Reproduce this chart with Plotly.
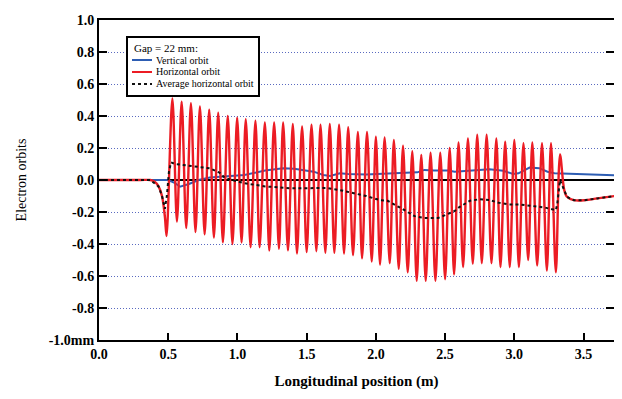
import plotly.graph_objects as go

# ---------------- data ----------------
# Horizontal orbit: entrance segment
entr_x = [0.0, 0.30, 0.37, 0.40, 0.43, 0.455, 0.476, 0.488]
entr_y = [0.0, 0.0, 0.0, -0.01, -0.04, -0.10, -0.23, -0.35]

# Horizontal orbit: oscillation extremes
peak_x = [0.53, 0.597, 0.664, 0.729, 0.796, 0.861, 0.93, 0.998, 1.06, 1.13,
          1.198, 1.265, 1.33, 1.40, 1.467, 1.535, 1.60, 1.667, 1.734, 1.80,
          1.87, 1.936, 2.00, 2.063, 2.13, 2.196, 2.263, 2.328, 2.395, 2.465,
          2.533, 2.597, 2.665, 2.732, 2.80, 2.87, 2.934, 3.00, 3.066, 3.13,
          3.20, 3.265, 3.33]
peak_y = [0.51, 0.49, 0.48, 0.46, 0.44, 0.42, 0.40, 0.39, 0.38, 0.37,
          0.36, 0.36, 0.36, 0.35, 0.335, 0.345, 0.345, 0.35, 0.345, 0.33,
          0.30, 0.30, 0.27, 0.266, 0.25, 0.214, 0.18, 0.157, 0.17, 0.17,
          0.20, 0.235, 0.26, 0.283, 0.283, 0.26, 0.24, 0.25, 0.23, 0.235,
          0.23, 0.23, 0.16]
trough_x = [0.563, 0.63, 0.697, 0.763, 0.83, 0.895, 0.964, 1.03, 1.095, 1.16,
            1.23, 1.30, 1.365, 1.43, 1.50, 1.57, 1.635, 1.70, 1.77, 1.835,
            1.90, 1.97, 2.03, 2.10, 2.165, 2.23, 2.295, 2.36, 2.43, 2.50,
            2.565, 2.63, 2.70, 2.765, 2.835, 2.90, 2.967, 3.033, 3.10, 3.165,
            3.235, 3.30]
trough_y = [-0.26, -0.30, -0.325, -0.34, -0.36, -0.39, -0.40, -0.39, -0.42, -0.42,
            -0.44, -0.43, -0.44, -0.46, -0.45, -0.445, -0.455, -0.455, -0.46, -0.47,
            -0.49, -0.51, -0.53, -0.52, -0.555, -0.577, -0.63, -0.63, -0.63, -0.62,
            -0.59, -0.545, -0.524, -0.52, -0.52, -0.545, -0.545, -0.545, -0.50, -0.535,
            -0.566, -0.577]

# Exit tail (shared by horizontal and average orbit)
tail_x = [3.36, 3.38, 3.43, 3.51, 3.60, 3.77]
tail_y = [-0.06, -0.105, -0.126, -0.126, -0.115, -0.095]

# Average horizontal orbit
avg_x = [0.0, 0.37, 0.43, 0.455, 0.476, 0.49, 0.505, 0.52, 0.55, 0.65, 0.80,
         0.87, 0.91, 1.05, 1.20, 1.39, 1.49, 1.645, 1.74, 1.83, 1.93, 2.03,
         2.085, 2.185, 2.28, 2.35, 2.45, 2.50, 2.57, 2.605, 2.68, 2.75, 2.82,
         2.89, 2.965, 3.04, 3.11, 3.15, 3.22, 3.30, 3.31, 3.33]
avg_y = [0.0, 0.0, -0.04, -0.10, -0.18, -0.10, 0.05, 0.11, 0.10, 0.088, 0.073,
         0.046, 0.012, -0.02, -0.04, -0.052, -0.052, -0.05, -0.063, -0.08, -0.10, -0.126,
         -0.13, -0.178, -0.226, -0.237, -0.237, -0.22, -0.193, -0.168, -0.13, -0.12, -0.125,
         -0.143, -0.153, -0.153, -0.162, -0.165, -0.172, -0.189, -0.15, 0.0]

# Vertical orbit
vert_x = [0.0, 0.50, 0.55, 0.585, 0.65, 0.72, 0.80, 0.895, 1.05, 1.20, 1.33,
          1.41, 1.49, 1.55, 1.62, 1.67, 1.74, 1.80, 1.93, 2.03, 2.13, 2.30,
          2.35, 2.42, 2.52, 2.57, 2.68, 2.82, 2.92, 2.99, 3.03, 3.11, 3.18,
          3.24, 3.29, 3.51, 3.77]
vert_y = [0.0, 0.0, -0.02, -0.042, -0.025, 0.0, 0.015, 0.022, 0.031, 0.059, 0.073,
          0.07, 0.058, 0.052, 0.031, 0.025, 0.042, 0.038, 0.035, 0.04, 0.042, 0.048,
          0.063, 0.06, 0.06, 0.052, 0.058, 0.067, 0.058, 0.038, 0.042, 0.078, 0.074,
          0.052, 0.042, 0.035, 0.028]

y_ticks = [1.0, 0.8, 0.6, 0.4, 0.2, 0.0, -0.2, -0.4, -0.6, -0.8, -1.0]
y_ticklabels = ["1.0", "0.8", "0.6", "0.4", "0.2", "0.0", "-0.2", "-0.4", "-0.6", "-0.8", "-1.0mm"]
x_ticks = [0.0, 0.5, 1.0, 1.5, 2.0, 2.5, 3.0, 3.5]
x_ticklabels = ["0.0", "0.5", "1.0", "1.5", "2.0", "2.5", "3.0", "3.5"]

series_names = ["Vertical orbit", "Horizontal orbit", "Average horizontal orbit"]
series_colors = ["#2d5db3", "#ec1c24", "#111111"]
series_dash = ["solid", "solid", "dot"]
legend_title = "Gap = 22 mm:"

# ---------------- build horizontal orbit series ----------------
osc = sorted(list(zip(peak_x, peak_y)) + list(zip(trough_x, trough_y)))
hor_x = entr_x + [p[0] for p in osc] + tail_x
hor_y = entr_y + [p[1] for p in osc] + tail_y
avg_full_x = avg_x + tail_x
avg_full_y = avg_y + tail_y

SERIF = "Liberation Serif"
OFF = 8                     # page body margin
W, H = 606, 383             # fits the 622x399 window together with the body margin
ML, MR, MT, MB = 91, 0, 12, 51
PW, PH = W - ML - MR, H - MT - MB
X_MAX = 3.72


def px_x(p):
    return (p - OFF - ML) / PW


def px_y(p):
    return (H - MB - (p - OFF)) / PH


fig = go.Figure()
fig.add_trace(go.Scatter(x=vert_x, y=vert_y, mode="lines", name=series_names[0],
                         line=dict(color=series_colors[0], width=2)))
fig.add_trace(go.Scatter(x=hor_x, y=hor_y, mode="lines", name=series_names[1],
                         line=dict(color=series_colors[1], width=2.4, shape="spline", smoothing=0.9)))
fig.add_trace(go.Scatter(x=avg_full_x, y=avg_full_y, mode="lines", name=series_names[2],
                         line=dict(color=series_colors[2], width=2, dash="dot")))

# ---------------- hand-drawn legend box ----------------
shapes = [dict(type="rect", xref="paper", yref="paper",
               x0=px_x(127), x1=px_x(259), y0=px_y(96), y1=px_y(37),
               line=dict(color="black", width=2), fillcolor="white", layer="above")]
annotations = [dict(text=legend_title, xref="paper", yref="paper",
                    x=px_x(132), y=px_y(48), xanchor="left", yanchor="middle",
                    showarrow=False, font=dict(family=SERIF, size=11, color="black"))]
item_rows = [60, 72, 84]
for name, col, dash, row in zip(series_names, series_colors, series_dash, item_rows):
    shapes.append(dict(type="line", xref="paper", yref="paper",
                       x0=px_x(132), x1=px_x(152), y0=px_y(row), y1=px_y(row),
                       line=dict(color=col, width=2, dash=dash), layer="above"))
    annotations.append(dict(text=name, xref="paper", yref="paper",
                            x=px_x(154), y=px_y(row), xanchor="left", yanchor="middle",
                            showarrow=False, font=dict(family=SERIF, size=10, color="black")))

fig.update_layout(
    width=W, height=H,
    margin=dict(l=ML, r=MR, t=MT, b=MB),
    paper_bgcolor="white", plot_bgcolor="white",
    font=dict(family=SERIF, color="black"),
    showlegend=False,
    shapes=shapes, annotations=annotations,
)
fig.update_xaxes(
    range=[0, X_MAX], tickvals=x_ticks, ticktext=x_ticklabels, automargin=False,
    ticks="inside", ticklen=7, tickwidth=2, tickcolor="black",
    showline=True, linewidth=2, linecolor="black", mirror=True,
    showgrid=False, zeroline=False,
    tickfont=dict(family=SERIF, size=14, weight="bold"),
    title=dict(text="Longitudinal position (m)", standoff=15,
               font=dict(family=SERIF, size=15, weight="bold")),
)
fig.update_yaxes(
    range=[-1, 1], tickvals=y_ticks, ticktext=y_ticklabels, automargin=False,
    ticks="inside", ticklen=8, tickwidth=2, tickcolor="black",
    showline=True, linewidth=2, linecolor="black", mirror="allticks",
    showgrid=True, gridcolor="#5a6ac0", griddash="1px,2px", gridwidth=1,
    zeroline=True, zerolinecolor="black", zerolinewidth=2,
    tickfont=dict(family=SERIF, size=14, weight="bold"),
    title=dict(text="Electron orbits", standoff=19,
               font=dict(family=SERIF, size=14)),
)

fig.write_html("out.html")
